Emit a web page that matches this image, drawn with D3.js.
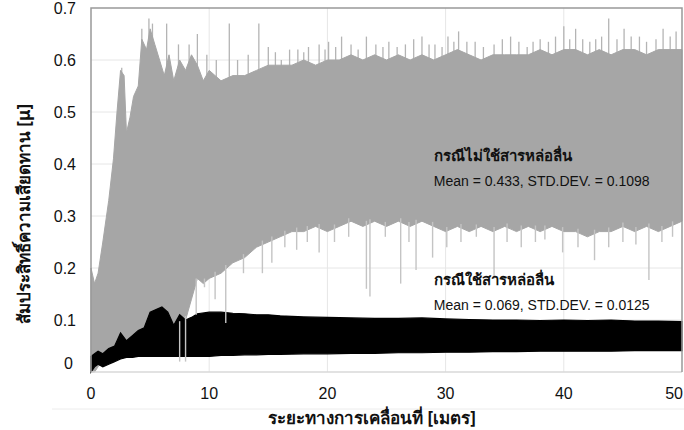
<!DOCTYPE html>
<html lang="th">
<head>
  <meta charset="UTF-8">
  <title>Friction coefficient vs sliding distance</title>
  <style>
    body { margin: 0; background: white; }
    .tick-label { font-family: "Liberation Sans", Arial, sans-serif; font-size: 16px; fill: #111; }
    .axis-title { font-family: "Noto Sans", "DejaVu Sans", sans-serif; font-weight: bold; font-size: 17px; fill: #111; }
    .note-title { font-family: "Noto Sans", "DejaVu Sans", sans-serif; font-weight: bold; font-size: 15px; fill: #111; }
    .note-stat { font-family: "Liberation Sans", Arial, sans-serif; font-size: 14px; fill: #111; }
  </style>
</head>
<body>
<div id="chart"></div>
<script src="https://d3js.org/d3.v7.min.js"></script>
<script>
  // tick values
  const xTicks = [0, 10, 20, 30, 40, 50];
  const yTicks = [0, 0.1, 0.2, 0.3, 0.4, 0.5, 0.6, 0.7];

  // without lubricant (grey band): distance, body top and body bottom
  const grayD = [0, 0.3, 0.6, 1.0, 1.5, 1.9, 2.2, 2.5, 2.8, 3.0, 3.3, 3.6, 4.0, 4.3, 4.7, 5.0, 5.4, 5.8, 6.2, 6.6,
    7.0, 7.5, 8.0, 8.5, 9.0, 9.5, 10, 11, 12, 13, 14, 15, 16, 17, 18, 19, 20, 21, 22, 23, 24, 25, 26, 27, 28, 29,
    30, 31, 32, 33, 34, 35, 36, 37, 38, 39, 40, 41, 42, 43, 44, 45, 46, 47, 48, 49, 50];
  const grayTop = [0.20, 0.17, 0.19, 0.25, 0.33, 0.41, 0.50, 0.58, 0.57, 0.46, 0.49, 0.53, 0.55, 0.64, 0.62, 0.66, 0.63, 0.60, 0.57, 0.61,
    0.56, 0.60, 0.58, 0.61, 0.59, 0.56, 0.58, 0.56, 0.57, 0.57, 0.58, 0.59, 0.59, 0.59, 0.60, 0.59, 0.60, 0.60, 0.61, 0.60, 0.61, 0.60, 0.61, 0.60, 0.61, 0.60,
    0.61, 0.62, 0.61, 0.60, 0.61, 0.61, 0.61, 0.61, 0.62, 0.61, 0.62, 0.62, 0.61, 0.62, 0.61, 0.62, 0.62, 0.61, 0.62, 0.62, 0.62];
  const grayBottom = [0.0, 0.0, 0.01, 0.02, 0.03, 0.03, 0.03, 0.04, 0.04, 0.04, 0.05, 0.05, 0.05, 0.06, 0.06, 0.07, 0.07, 0.08, 0.08, 0.08,
    0.08, 0.09, 0.10, 0.14, 0.18, 0.17, 0.18, 0.19, 0.21, 0.22, 0.24, 0.25, 0.26, 0.27, 0.27, 0.28, 0.27, 0.28, 0.29, 0.28, 0.29, 0.28, 0.29, 0.28, 0.29, 0.28,
    0.27, 0.28, 0.27, 0.28, 0.27, 0.28, 0.27, 0.28, 0.27, 0.28, 0.27, 0.27, 0.26, 0.27, 0.27, 0.28, 0.27, 0.28, 0.27, 0.28, 0.29];

  // light spikes above / below the grey band: [distance, mu]
  const grayPeaks = [[2.6, 0.585], [4.3, 0.66], [4.9, 0.68], [5.2, 0.67], [6.4, 0.67], [7.4, 0.63], [8.3, 0.63], [9.0, 0.65],
    [9.8, 0.61], [10.6, 0.60], [11.7, 0.67], [12.4, 0.60], [13.3, 0.61], [14.2, 0.67], [15.0, 0.625], [15.6, 0.615], [16.1, 0.60],
    [16.8, 0.62], [17.5, 0.62], [18.0, 0.615], [18.4, 0.625], [19.3, 0.63], [19.8, 0.62],
    [20.1, 0.635], [20.7, 0.625], [21.2, 0.645], [22.0, 0.63], [22.6, 0.62], [23.3, 0.645], [24.1, 0.63], [24.7, 0.625], [25.2, 0.635],
    [25.9, 0.625], [26.6, 0.63], [27.3, 0.64], [28.0, 0.645], [28.6, 0.63], [29.1, 0.63], [29.7, 0.625], [30.2, 0.645], [30.7, 0.635],
    [31.1, 0.655], [31.8, 0.635], [32.5, 0.635], [33.2, 0.625], [34.1, 0.63], [34.8, 0.64], [35.5, 0.645], [36.2, 0.635], [36.9, 0.625],
    [37.4, 0.635], [38.0, 0.64], [38.7, 0.635], [39.3, 0.645], [40.0, 0.665], [40.5, 0.64], [41.0, 0.66], [41.6, 0.64], [42.2, 0.635],
    [42.7, 0.64], [43.2, 0.645], [43.8, 0.68], [44.5, 0.64], [45.1, 0.66], [45.7, 0.645], [46.4, 0.645], [47.0, 0.635], [47.8, 0.64],
    [48.4, 0.66], [49.0, 0.645], [49.5, 0.655]];
  const grayDips = [[7.5, 0.02], [8.0, 0.02], [8.9, 0.11], [9.6, 0.163], [10.5, 0.14], [11.4, 0.094], [12.9, 0.19], [14.5, 0.19],
    [15.3, 0.21], [16.4, 0.24], [17.4, 0.235], [18.3, 0.25], [19.3, 0.23], [20.6, 0.25], [21.8, 0.26], [23.3, 0.16], [23.6, 0.145],
    [24.9, 0.26], [26.2, 0.17], [26.9, 0.25], [27.5, 0.196], [28.9, 0.22], [30.1, 0.24], [31.3, 0.25], [32.6, 0.26], [34.1, 0.18],
    [35.2, 0.25], [36.4, 0.24], [37.6, 0.25], [38.4, 0.255], [39.9, 0.23], [41.2, 0.24], [42.6, 0.215], [43.8, 0.24], [45.0, 0.25],
    [46.1, 0.245], [47.2, 0.177], [48.3, 0.25], [49.2, 0.26]];

  // with lubricant (black band)
  const blackD = [0, 0.3, 0.6, 1.0, 1.5, 2.0, 2.5, 3.0, 3.5, 4.0, 4.5, 5.0, 5.5, 6.0, 6.5, 7.0, 7.5, 8.0, 8.5, 9,
    10, 11, 12, 13, 14, 15, 16, 18, 20, 22, 24, 26, 28, 30, 32, 34, 36, 38, 40, 42, 44, 46, 48, 50];
  const blackTop = [0.03, 0.035, 0.04, 0.035, 0.045, 0.05, 0.075, 0.06, 0.07, 0.08, 0.085, 0.115, 0.12, 0.125, 0.115, 0.09, 0.11, 0.10, 0.105, 0.112,
    0.115, 0.115, 0.113, 0.112, 0.11, 0.11, 0.108, 0.106, 0.105, 0.104, 0.103, 0.103, 0.104, 0.102, 0.101, 0.10, 0.10, 0.099, 0.10, 0.099, 0.10, 0.098, 0.098, 0.097];
  const blackBottom = [0.0, 0.01, 0.015, 0.01, 0.015, 0.02, 0.025, 0.028, 0.028, 0.03, 0.03, 0.03, 0.03, 0.03, 0.03, 0.03, 0.03, 0.03, 0.03, 0.03,
    0.03, 0.032, 0.032, 0.033, 0.033, 0.034, 0.034, 0.035, 0.035, 0.036, 0.036, 0.037, 0.037, 0.038, 0.038, 0.039, 0.039, 0.04, 0.04, 0.04, 0.04, 0.041, 0.041, 0.041];

  const notes = [
    {title: "กรณีไม่ใช้สารหล่อลื่น", stat: "Mean = 0.433, STD.DEV. = 0.1098", x: 29.0, y: 0.405},
    {title: "กรณีใช้สารหล่อลื่น", stat: "Mean = 0.069, STD.DEV. = 0.0125", x: 29.0, y: 0.167}
  ];

  const W = 684, H = 430;
  const margin = {top: 8, right: 2, bottom: 58, left: 91};
  const width = W - margin.left - margin.right;
  const height = H - margin.top - margin.bottom;

  const svg = d3.select("#chart").append("svg")
    .attr("width", W)
    .attr("height", H);

  const g = svg.append("g")
    .attr("transform", `translate(${margin.left},${margin.top})`);

  const x = d3.scaleLinear().domain([0, 50]).range([0, width]);
  const y = d3.scaleLinear().domain([0, 0.7]).range([height, 0]);

  // gridlines
  g.append("g")
    .selectAll("line.vgrid")
    .data(xTicks.slice(1, -1))
    .enter().append("line")
    .attr("x1", d => x(d)).attr("x2", d => x(d))
    .attr("y1", 0).attr("y2", height)
    .attr("stroke", "#e6e6e6");
  g.append("g")
    .selectAll("line.hgrid")
    .data(yTicks.slice(1, -1))
    .enter().append("line")
    .attr("x1", 0).attr("x2", width)
    .attr("y1", d => y(d)).attr("y2", d => y(d))
    .attr("stroke", "#e6e6e6");

  // grey band
  const grayArea = d3.area()
    .x((d, i) => x(grayD[i]))
    .y0((d, i) => y(grayBottom[i]))
    .y1((d, i) => y(grayTop[i]));
  const topAt = d3.scaleLinear().domain(grayD).range(grayTop);
  const bottomAt = d3.scaleLinear().domain(grayD).range(grayBottom);

  g.append("g")
    .selectAll("line.peak")
    .data(grayPeaks)
    .enter().append("line")
    .attr("x1", d => x(d[0])).attr("x2", d => x(d[0]))
    .attr("y1", d => y(topAt(d[0])) + 4).attr("y2", d => y(d[1]))
    .attr("stroke", "#b4b4b4")
    .attr("stroke-width", 1.3);

  g.append("path")
    .datum(grayD)
    .attr("d", grayArea)
    .attr("fill", "#a6a6a6")
    .attr("stroke", "#a6a6a6")
    .attr("stroke-width", 1);

  // black band
  const blackArea = d3.area()
    .x((d, i) => x(blackD[i]))
    .y0((d, i) => y(blackBottom[i]))
    .y1((d, i) => y(blackTop[i]));

  g.append("path")
    .datum(blackD)
    .attr("d", blackArea)
    .attr("fill", "#000")
    .attr("stroke", "#000")
    .attr("stroke-width", 1.2);

  g.append("g")
    .selectAll("line.dip")
    .data(grayDips)
    .enter().append("line")
    .attr("x1", d => x(d[0])).attr("x2", d => x(d[0]))
    .attr("y1", d => y(bottomAt(d[0])) - 4).attr("y2", d => y(d[1]))
    .attr("stroke", "#c4c4c4")
    .attr("stroke-width", 1.4);

  // frame
  g.append("line")
    .attr("x1", 0).attr("x2", width).attr("y1", height).attr("y2", height)
    .attr("stroke", "#d9d9d9").attr("stroke-width", 1.5);
  g.append("path")
    .attr("d", `M0,${height}V0H${width}V${height}`)
    .attr("fill", "none")
    .attr("stroke", "#999")
    .attr("stroke-width", 1.5);

  // tick labels
  g.selectAll("text.xtick")
    .data(xTicks)
    .enter().append("text")
    .attr("class", "tick-label")
    .attr("x", d => d === 50 ? W - margin.left - 1 : x(d))
    .attr("y", height + 27)
    .attr("text-anchor", d => d === 50 ? "end" : "middle")
    .text(d => d);

  g.selectAll("text.ytick")
    .data(yTicks)
    .enter().append("text")
    .attr("class", "tick-label")
    .attr("x", d => d === 0 ? -18 : -15)
    .attr("y", d => y(d) + (d === 0 ? -3 : 6))
    .attr("text-anchor", "end")
    .text(d => d === 0 ? "0" : d3.format(".1f")(d));

  // faint rule under the x labels
  svg.append("line")
    .attr("x1", 52).attr("x2", W).attr("y1", 409).attr("y2", 409)
    .attr("stroke", "#ececec");

  // axis titles
  svg.append("text")
    .attr("class", "axis-title")
    .attr("x", 372)
    .attr("y", 424)
    .attr("text-anchor", "middle")
    .text("ระยะทางการเคลื่อนที่ [เมตร]");

  svg.append("text")
    .attr("class", "axis-title")
    .attr("transform", "translate(30,214) rotate(-90)")
    .attr("text-anchor", "middle")
    .text("สัมประสิทธิ์ความเสียดทาน [μ]");

  // notes
  notes.forEach(n => {
    g.append("text")
      .attr("class", "note-title")
      .attr("x", x(n.x))
      .attr("y", y(n.y))
      .text(n.title);
    g.append("text")
      .attr("class", "note-stat")
      .attr("x", x(n.x))
      .attr("y", y(n.y) + 25)
      .text(n.stat);
  });
</script>
</body>
</html>
